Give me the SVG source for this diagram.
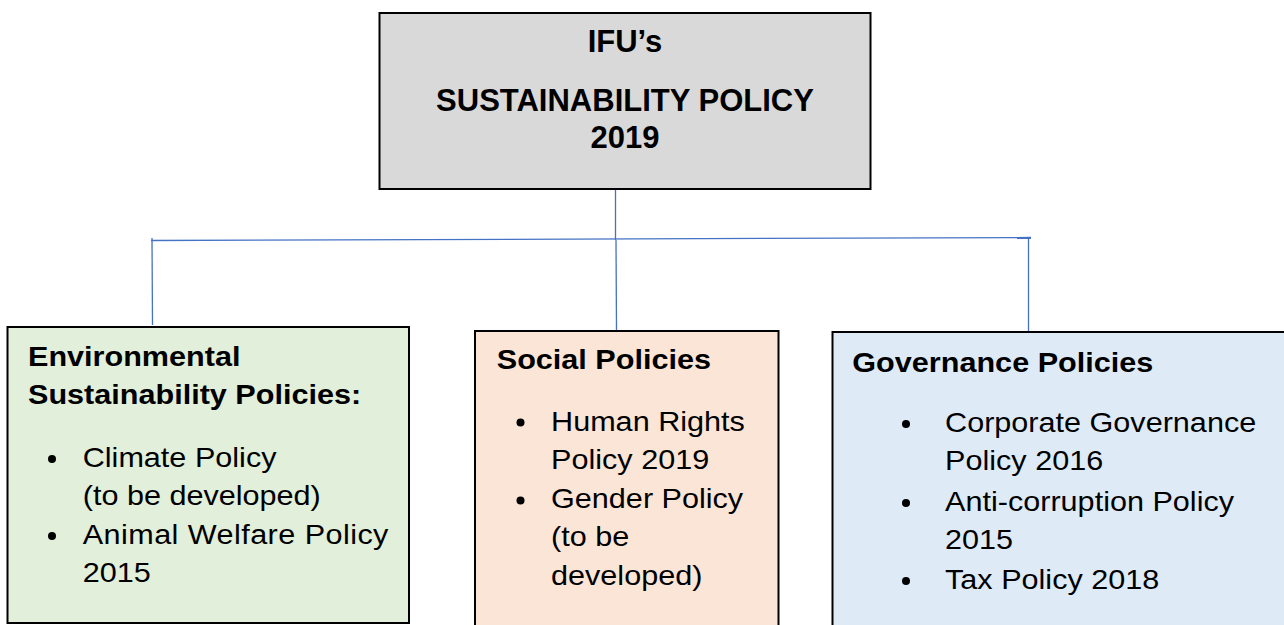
<svg xmlns="http://www.w3.org/2000/svg" width="1284" height="625" viewBox="0 0 1284 625">
<style>
.box{stroke:#000;stroke-width:2}
.t{font-family:"Liberation Sans",Arial,sans-serif;font-size:27.5px;fill:#000}
.h{font-family:"Liberation Sans",Arial,sans-serif;font-size:31px;font-weight:bold;fill:#000;text-anchor:middle}
.b{font-weight:bold}
.con{stroke:#4472C4;stroke-width:1.3;fill:none}
.dot{fill:#000}
</style>
<rect width="1284" height="625" fill="#fff"/>
<g id="connectors">
<line class="con" x1="615.5" y1="190" x2="615.5" y2="240"/>
<line class="con" x1="151" y1="240.5" x2="1031" y2="237.5"/>
<line class="con" x1="152" y1="238" x2="152.5" y2="325"/>
<line class="con" x1="616" y1="240" x2="616.5" y2="331"/>
<line class="con" x1="1028.5" y1="238" x2="1028.5" y2="332"/>
</g>
<g id="top">
<rect class="box" x="379.5" y="13" width="491" height="176" fill="#D9D9D9"/>
<text class="h" x="625" y="52">IFU’s</text>
<text class="h" x="625" y="111">SUSTAINABILITY POLICY</text>
<text class="h" x="625" y="148">2019</text>
</g>
<g id="environmental">
<rect class="box" x="7.5" y="327" width="401.5" height="296" fill="#E2EFDA"/>
<circle class="dot" cx="52" cy="459" r="4"/>
<circle class="dot" cx="52" cy="536" r="4"/>
<g transform="scale(1.113 1)">
<text class="t b" x="25.16" y="366">Environmental</text>
<text class="t b" x="25.16" y="404">Sustainability Policies:</text>
<text class="t" x="74.3" y="467">Climate Policy</text>
<text class="t" x="74.3" y="505">(to be developed)</text>
<text class="t" x="74.3" y="544" textLength="274.7" lengthAdjust="spacing">Animal Welfare Policy</text>
<text class="t" x="74.3" y="582">2015</text>
</g>
</g>
<g id="social">
<rect class="box" x="475" y="331" width="303.5" height="300" fill="#FBE5D6"/>
<circle class="dot" cx="520.5" cy="422.5" r="4"/>
<circle class="dot" cx="520.5" cy="500.5" r="4"/>
<g transform="scale(1.113 1)">
<text class="t b" x="446.3" y="369">Social Policies</text>
<text class="t" x="495.1" y="431">Human Rights</text>
<text class="t" x="495.1" y="469.5">Policy 2019</text>
<text class="t" x="495.1" y="508">Gender Policy</text>
<text class="t" x="495.1" y="546.5">(to be</text>
<text class="t" x="495.1" y="585">developed)</text>
</g>
</g>
<g id="governance">
<rect class="box" x="832.5" y="332" width="460" height="300" fill="#DEEBF7"/>
<circle class="dot" cx="906" cy="424" r="4"/>
<circle class="dot" cx="906" cy="503" r="4"/>
<circle class="dot" cx="906" cy="581" r="4"/>
<g transform="scale(1.113 1)">
<text class="t b" x="765.8" y="372">Governance Policies</text>
<text class="t" x="849.1" y="432">Corporate Governance</text>
<text class="t" x="849.1" y="470">Policy 2016</text>
<text class="t" x="849.1" y="511.5">Anti-corruption Policy</text>
<text class="t" x="849.1" y="549.5">2015</text>
<text class="t" x="849.1" y="589">Tax Policy 2018</text>
</g>
</g>
</svg>
